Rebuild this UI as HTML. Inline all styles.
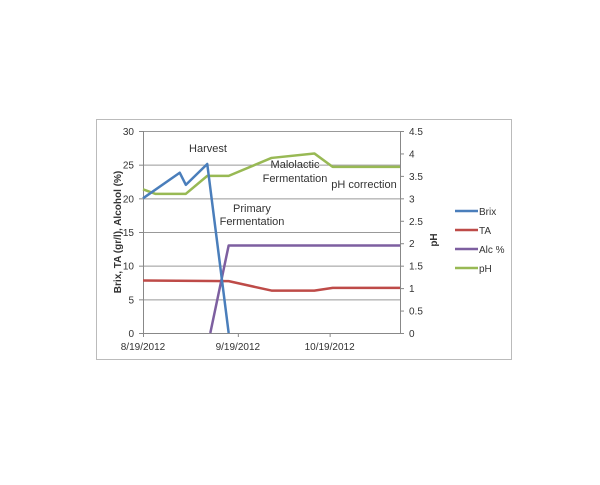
<!DOCTYPE html>
<html><head><meta charset="utf-8"><style>
body{margin:0;background:#fff;}
svg text{font-family:"Liberation Sans",sans-serif;fill:#333;}
</style></head><body>
<svg id="chart" width="600" height="480" xmlns="http://www.w3.org/2000/svg">
<rect x="96.5" y="119.5" width="415" height="240" fill="#fff" stroke="#bbb"/>
<g id="grid"></g><g id="axes"></g><g id="series"></g>
<g font-size="11" fill="#333">
<text x="208" y="152" text-anchor="middle">Harvest</text>
<text x="295" y="168" text-anchor="middle">Malolactic</text>
<text x="295" y="182" text-anchor="middle">Fermentation</text>
<text x="364" y="188" text-anchor="middle">pH correction</text>
<text x="252" y="212" text-anchor="middle">Primary</text>
<text x="252" y="225" text-anchor="middle">Fermentation</text>
</g>
<text transform="translate(121,232) rotate(-90)" text-anchor="middle" font-size="10" font-weight="bold" fill="#000">Brix, TA (gr/l), Alcohol (%)</text>
<text transform="translate(437,240) rotate(-90)" text-anchor="middle" font-size="10" font-weight="bold" fill="#000">pH</text>
<g id="legend"></g>
</svg>
<script>
const leftTicks=[0,5,10,15,20,25,30];
const rightTicks=[0,0.5,1,1.5,2,2.5,3,3.5,4,4.5];
const xTickDays=[0,31,61];
const xTickLabels=["8/19/2012","9/19/2012","10/19/2012"];
const brixDays=[0,12,14,21,28];
const brixVals=[20,23.8,22,25.1,0];
const taDays=[0,28,42,56,62,84];
const taVals=[7.8,7.7,6.3,6.3,6.7,6.7];
const alcDays=[22,28,84];
const alcVals=[0,13,13];
const phDays=[0,4,14,21,28,42,56,62,84];
const phVals=[3.2,3.1,3.1,3.5,3.5,3.9,4.0,3.7,3.7];
const seriesNames=["Brix","TA","Alc %","pH"];
const colors=["#4a7ebb","#be4b48","#7d5fa0","#98b954"];
const X0=143,X1=400,Y0=333,Y1=131,DMAX=84;
const x=d=>X0+(X1-X0)*d/DMAX;
const yL=v=>Y0-(Y0-Y1)*v/30;
const yR=v=>Y0-(Y0-Y1)*v/4.5;
const NS="http://www.w3.org/2000/svg";
function mk(t,a,p){const e=document.createElementNS(NS,t);for(const k in a)e.setAttribute(k,a[k]);p.appendChild(e);return e;}
const grid=document.getElementById('grid'),axes=document.getElementById('axes'),ser=document.getElementById('series'),leg=document.getElementById('legend');
leftTicks.forEach(v=>{
 if(v>0){const g=mk('line',{x1:X0,x2:X1,y1:yL(v)+.5,y2:yL(v)+.5,stroke:'#999','stroke-width':1},grid);
 
 }
 mk('line',{x1:X0-4,x2:X0,y1:yL(v)+.5,y2:yL(v)+.5,stroke:'#888'},axes);
 const t=mk('text',{x:X0-9,y:yL(v)+4,'text-anchor':'end','font-size':10},axes);t.textContent=v;
 
 
});
rightTicks.forEach(v=>{
 mk('line',{x1:X1,x2:X1+4,y1:yR(v)+.5,y2:yR(v)+.5,stroke:'#888'},axes);
 const t=mk('text',{x:X1+9,y:yR(v)+4,'font-size':10},axes);t.textContent=v;
 
 
});
mk('line',{x1:X0+.5,x2:X0+.5,y1:Y1,y2:Y0,stroke:'#888'},axes);
mk('line',{x1:X1+.5,x2:X1+.5,y1:Y1,y2:Y0,stroke:'#888'},axes);
mk('line',{x1:X0,x2:X1,y1:Y0+.5,y2:Y0+.5,stroke:'#888'},axes);
xTickDays.forEach((d,i)=>{
 mk('line',{x1:x(d)+.5,x2:x(d)+.5,y1:Y0,y2:Y0+4,stroke:'#888'},axes);
 const t=mk('text',{x:x(d),y:Y0+17,'text-anchor':'middle','font-size':10},axes);t.textContent=xTickLabels[i];
 
 
});
function line(days,vals,sc,c,name){
 const p=mk('polyline',{points:days.map((d,i)=>x(d)+','+sc(vals[i])).join(' '),fill:'none',stroke:c,'stroke-width':2.5,'stroke-linejoin':'round'},ser);
 
 
}
line(taDays,taVals,yL,colors[1],'series-ta');
line(alcDays,alcVals,yL,colors[2],'series-alc');
line(phDays,phVals,yR,colors[3],'series-ph');
line(brixDays,brixVals,yL,colors[0],'series-brix');
seriesNames.forEach((n,i)=>{
 const y=211+i*19;
 mk('line',{x1:455,x2:478,y1:y,y2:y,stroke:colors[i],'stroke-width':2.5},leg);
 const t=mk('text',{x:479,y:y+4,'font-size':10},leg);t.textContent=n;
 
 
});
</script>
</body></html>
